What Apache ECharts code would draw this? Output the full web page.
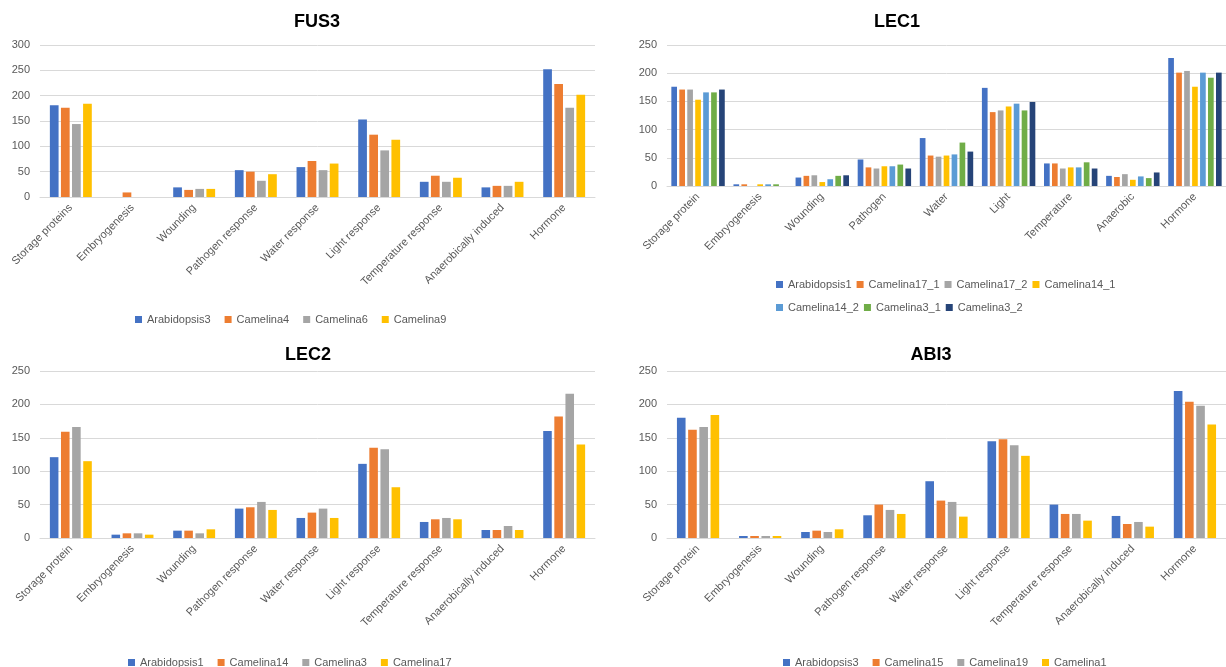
<!DOCTYPE html>
<html>
<head>
<meta charset="utf-8">
<script src="https://cdn.jsdelivr.net/npm/echarts@6/dist/echarts.min.js"></script>
<style>
html,body{margin:0;padding:0;background:#fff;}
#c{width:1226px;height:667px;}
</style>
</head>
<body>
<div id="c"></div>
<script>
// ---- Data ----
const fus3Categories = ["Storage proteins","Embryogenesis","Wounding","Pathogen response","Water response","Light response","Temperature response","Anaerobically induced","Hormone"];
const lec1Categories = ["Storage protein","Embryogenesis","Wounding","Pathogen","Water","Light","Temperature","Anaerobic","Hormone"];
const lec2Categories = ["Storage protein","Embryogenesis","Wounding","Pathogen response","Water response","Light response","Temperature response","Anaerobically induced","Hormone"];
const abi3Categories = ["Storage protein","Embryogenesis","Wounding","Pathogen response","Water response","Light response","Temperature response","Anaerobically induced","Hormone"];

const fus3Names = ["Arabidopsis3","Camelina4","Camelina6","Camelina9"];
const fus3Arabidopsis3 = [181,0,19,53,59,153,30,19,252];
const fus3Camelina4    = [176,9,14,50,71,123,42,22,223];
const fus3Camelina6    = [144,0,16,32,53,92,30,22,176];
const fus3Camelina9    = [184,0,16,45,66,113,38,30,202];

const lec1Names = ["Arabidopsis1","Camelina17_1","Camelina17_2","Camelina14_1","Camelina14_2","Camelina3_1","Camelina3_2"];
const lec1Arabidopsis1 = [176,3,15,47,85,174,40,18,227];
const lec1Camelina17_1 = [171,3,18,33,54,131,40,16,201];
const lec1Camelina17_2 = [171,0,19,31,52,134,31,21,204];
const lec1Camelina14_1 = [153,3,7,35,54,141,33,11,176];
const lec1Camelina14_2 = [166,3,12,35,56,146,33,17,201];
const lec1Camelina3_1  = [166,3,18,38,77,134,42,14,192];
const lec1Camelina3_2  = [171,0,19,31,61,149,31,24,201];

const lec2Names = ["Arabidopsis1","Camelina14","Camelina3","Camelina17"];
const lec2Arabidopsis1 = [121,5,11,44,30,111,24,12,160];
const lec2Camelina14   = [159,7,11,46,38,135,28,12,182];
const lec2Camelina3    = [166,7,7,54,44,133,30,18,216];
const lec2Camelina17   = [115,5,13,42,30,76,28,12,140];

const abi3Names = ["Arabidopsis3","Camelina15","Camelina19","Camelina1"];
const abi3Arabidopsis3 = [180,3,9,34,85,145,50,33,220];
const abi3Camelina15   = [162,3,11,50,56,148,36,21,204];
const abi3Camelina19   = [166,3,9,42,54,139,36,24,198];
const abi3Camelina1    = [184,3,13,36,32,123,26,17,170];

const palette = ["#4472C4","#ED7D31","#A5A5A5","#FFC000","#5B9BD5","#70AD47","#264478"];

// ---- Chart ----
const FONT = "Liberation Sans";
const labelColor = "#595959";
const gridColor = "#D9D9D9";

const panels = [
  {title:"FUS3", titleX:312, titleY:8, cats:fus3Categories, names:fus3Names,
   data:[fus3Arabidopsis3,fus3Camelina4,fus3Camelina6,fus3Camelina9],
   grid:{left:40, top:45, width:555, height:152}, max:300, bcg:'32%', bg:'27%'},
  {title:"LEC1", titleX:892, titleY:8, cats:lec1Categories, names:lec1Names,
   data:[lec1Arabidopsis1,lec1Camelina17_1,lec1Camelina17_2,lec1Camelina14_1,lec1Camelina14_2,lec1Camelina3_1,lec1Camelina3_2],
   grid:{left:667, top:45, width:564, height:141}, max:250, bcg:'14%', bg:'40%'},
  {title:"LEC2", titleX:303, titleY:341, cats:lec2Categories, names:lec2Names,
   data:[lec2Arabidopsis1,lec2Camelina14,lec2Camelina3,lec2Camelina17],
   grid:{left:40, top:371, width:555, height:167}, max:250, bcg:'32%', bg:'30%'},
  {title:"ABI3", titleX:926, titleY:341, cats:abi3Categories, names:abi3Names,
   data:[abi3Arabidopsis3,abi3Camelina15,abi3Camelina19,abi3Camelina1],
   grid:{left:667, top:371, width:564, height:167}, max:250, bcg:'32%', bg:'30%'}
];

const option = {
  animation:false,
  backgroundColor:"#fff",
  title:[], grid:[], xAxis:[], yAxis:[], series:[], legend:[]
};

panels.forEach((p, i) => {
  option.title.push({text:p.title, left:p.titleX, top:p.titleY, textAlign:'center',
    textStyle:{fontFamily:FONT, fontSize:18, fontWeight:'bold', color:'#000'}});
  option.grid.push(Object.assign({containLabel:false}, p.grid));
  option.xAxis.push({type:'category', gridIndex:i, data:p.cats,
    axisLine:{show:true, lineStyle:{color:gridColor, width:1}},
    axisTick:{show:false},
    axisLabel:{interval:0, rotate:45, margin:9, color:labelColor, fontFamily:FONT, fontSize:11}});
  option.yAxis.push({type:'value', gridIndex:i, min:0, max:p.max, interval:50,
    axisLine:{show:false}, axisTick:{show:false},
    splitLine:{lineStyle:{color:gridColor, width:1}},
    axisLabel:{margin:10, color:labelColor, fontFamily:FONT, fontSize:11}});
  p.names.forEach((n, k) => {
    option.series.push({type:'bar', name:n, xAxisIndex:i, yAxisIndex:i, data:p.data[k],
      itemStyle:{color:palette[k]}, barCategoryGap:p.bcg, barGap:p.bg});
  });
});

const legendBase = {itemWidth:7, itemHeight:7, itemGap:14, icon:'rect', orient:'horizontal',
  selectedMode:false, textStyle:{color:labelColor, fontFamily:FONT, fontSize:11}};
option.legend = [
  Object.assign({}, legendBase, {data:fus3Names, left:130, top:309}),
  Object.assign({}, legendBase, {data:lec1Names.slice(0,4), left:771, top:274, itemGap:5}),
  Object.assign({}, legendBase, {data:lec1Names.slice(4), left:771, top:297, itemGap:5}),
  Object.assign({}, legendBase, {data:lec2Names, left:123, top:652}),
  Object.assign({}, legendBase, {data:abi3Names, left:778, top:652})
];

const chart = echarts.init(document.getElementById('c'), null, {renderer:'canvas'});
chart.setOption(option);
</script>
</body>
</html>
